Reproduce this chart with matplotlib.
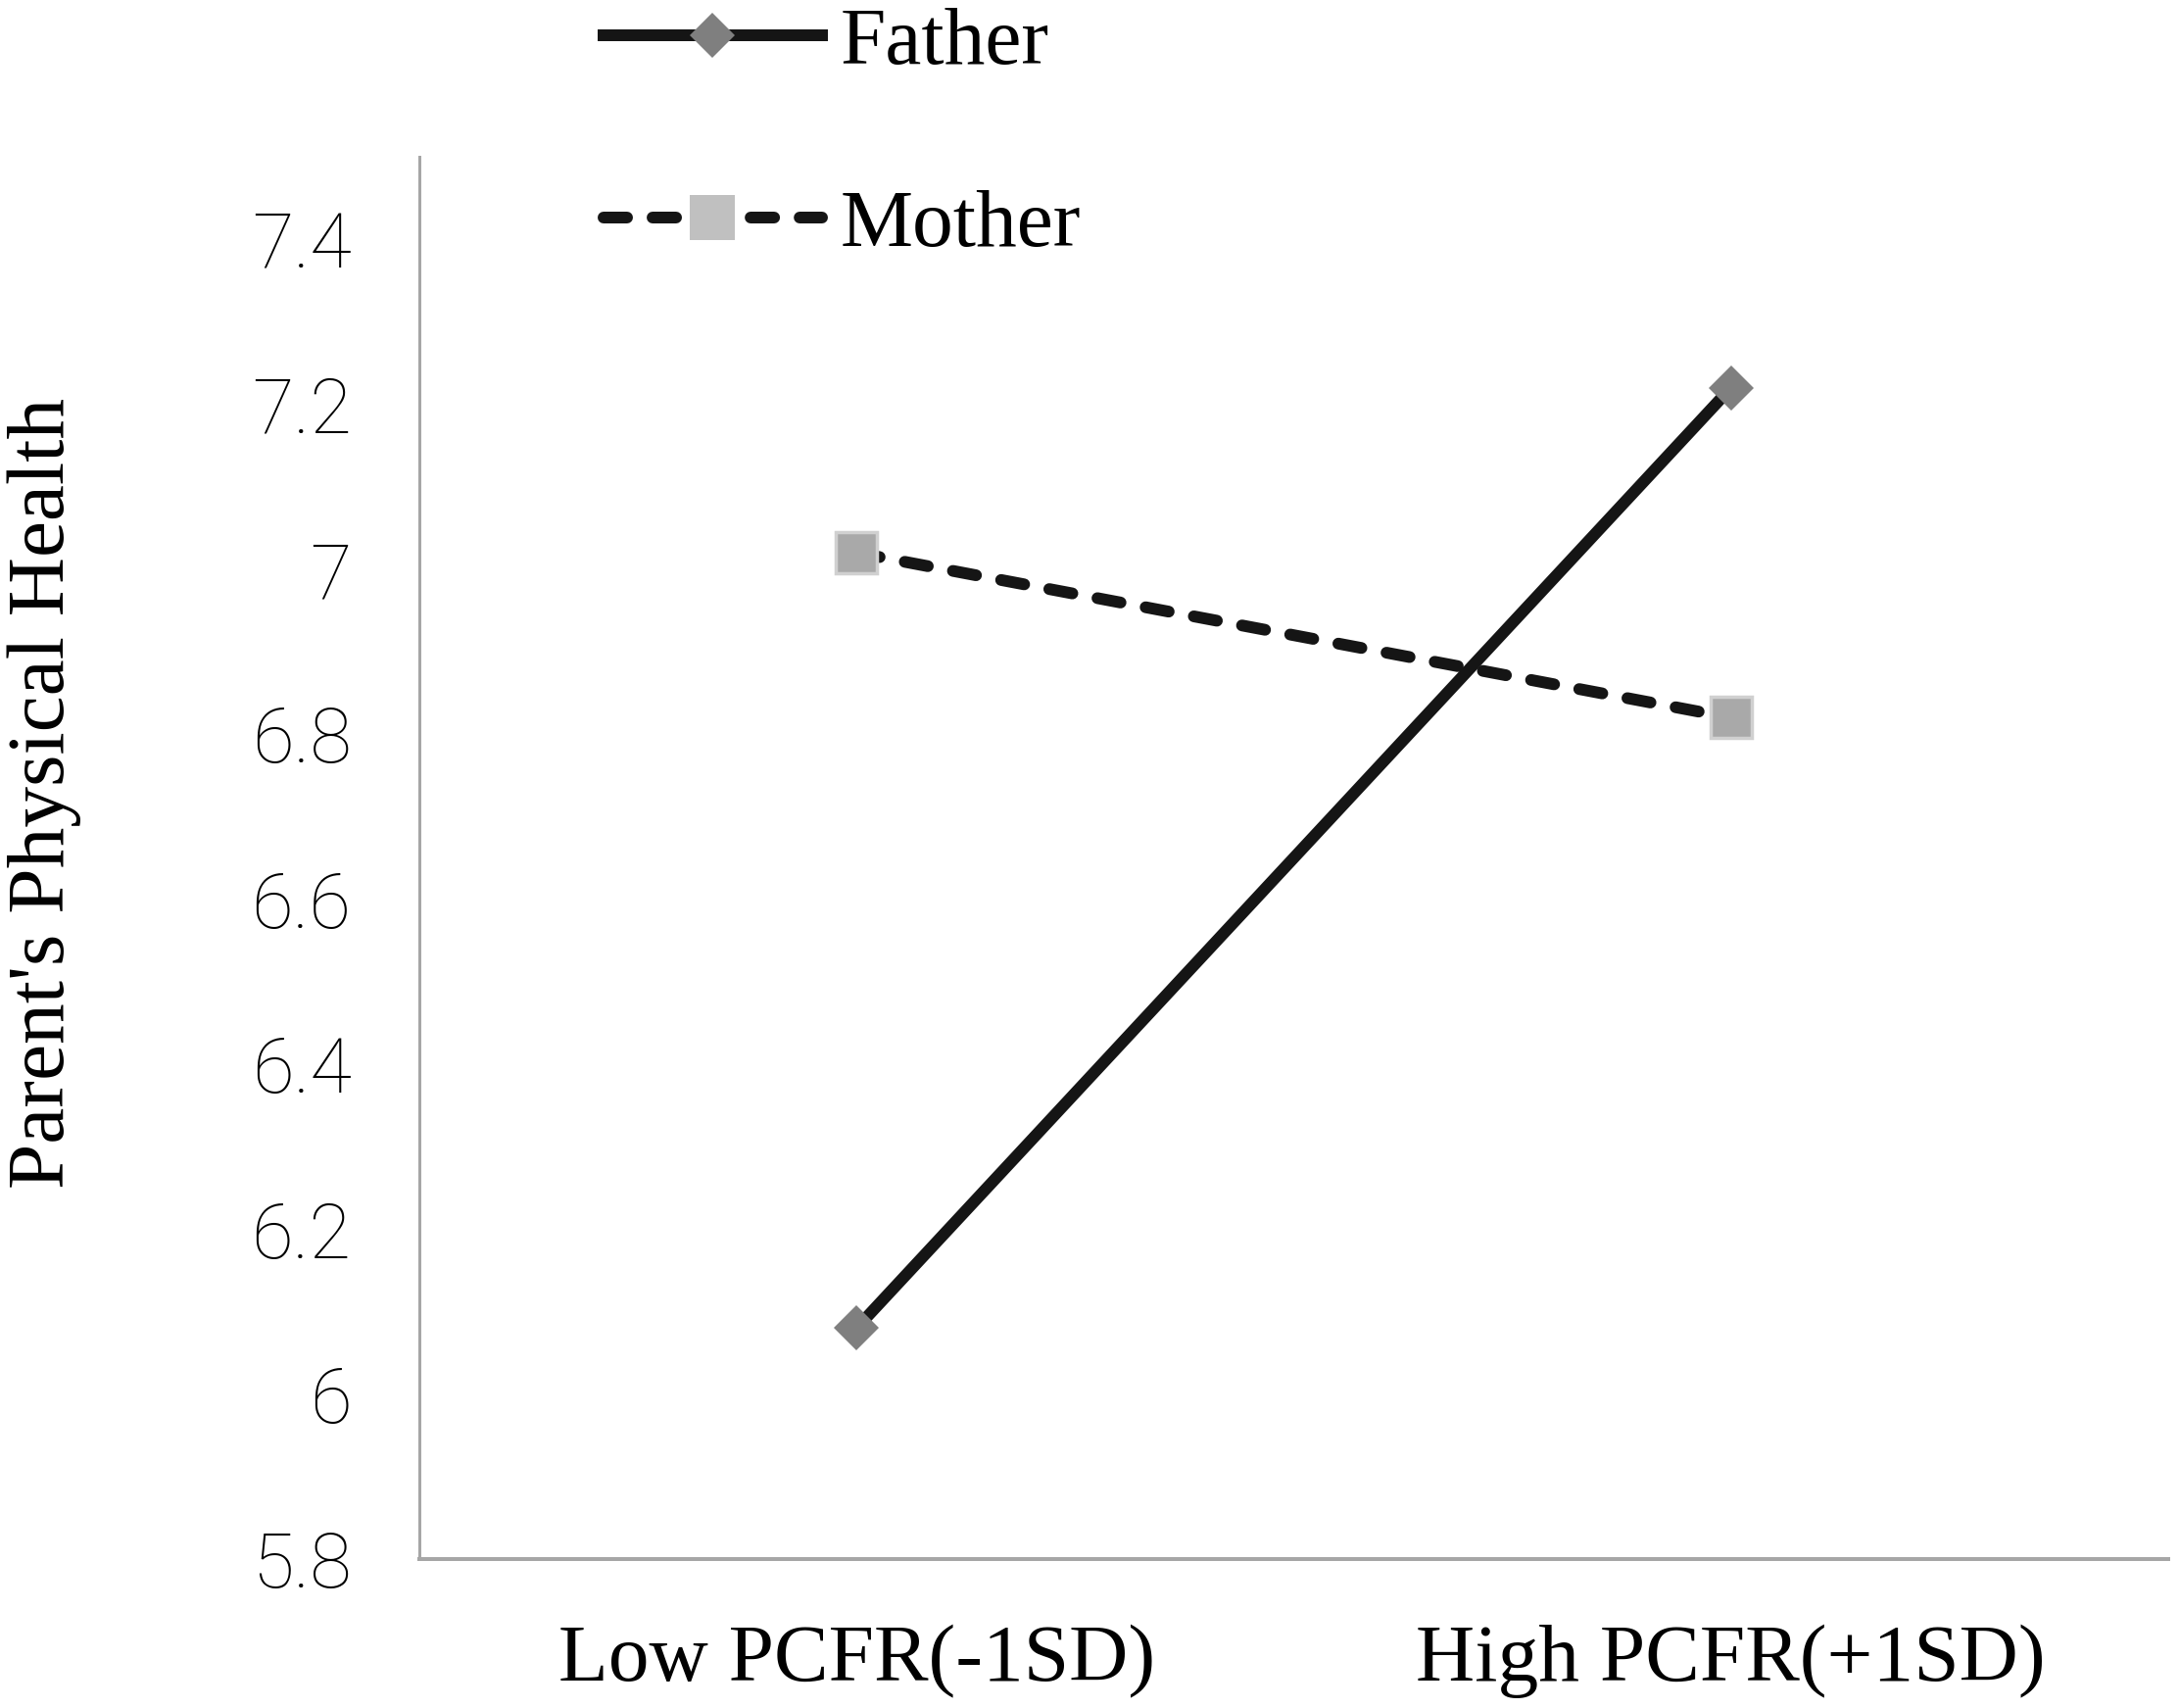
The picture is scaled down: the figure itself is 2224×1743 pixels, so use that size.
import matplotlib
matplotlib.use("Agg")
import matplotlib.pyplot as plt
from matplotlib.lines import Line2D

# data
categories = ["Low PCFR(-1SD)", "High PCFR(+1SD)"]
father = [6.08, 7.22]
mother = [7.02, 6.82]
y_ticks = [5.8, 6.0, 6.2, 6.4, 6.6, 6.8, 7.0, 7.2, 7.4]
y_tick_labels = ["5.8", "6", "6.2", "6.4", "6.6", "6.8", "7", "7.2", "7.4"]

W, H = 2224, 1743
fig = plt.figure(figsize=(W / 100, H / 100), dpi=100)
ax = fig.add_axes([428 / W, 1 - 1591 / H, (2213 - 428) / W, (1591 - 160) / H])

serif = "Liberation Serif"
line_w = 12 * 72 / 100  # 12 px in points

x = range(len(categories))
ax.plot(x, father, color="#151515", lw=line_w, solid_capstyle="round",
        marker="D", ms=23, mfc="#7f7f7f", mec="#7f7f7f", mew=0, zorder=3)
ax.plot(x, mother, color="#151515", lw=line_w, dashes=(2.0, 2.17),
        dash_capstyle="round", marker="s", ms=30, mfc="#a9a9a9",
        mec="#d0d0d0", mew=2.5, zorder=4)

ax.set_xlim(-0.5, 1.5)
ax.set_ylim(5.8, 7.5)
ax.set_xticks(list(x))
ax.set_xticklabels(categories, family=serif, fontsize=60)
ax.set_yticks(y_ticks)
ax.set_yticklabels(y_tick_labels, family="Roboto", fontweight="light", fontsize=56)
ax.tick_params(axis="x", length=0, pad=48)
ax.tick_params(axis="y", length=0, pad=50)

for side in ("top", "right"):
    ax.spines[side].set_visible(False)
ax.spines["left"].set_color("#a6a6a6")
ax.spines["left"].set_linewidth(3 * 72 / 100)
ax.spines["bottom"].set_color("#a6a6a6")
ax.spines["bottom"].set_linewidth(4 * 72 / 100)

fig.text(45 / W, 1 - 809 / H, "Parent's Physical Health", rotation=90,
         ha="center", va="center", family=serif, fontsize=60)

# legend above the plot, handles built to match the reference look
handles = [
    Line2D([], [], color="#151515", lw=line_w, marker="D", ms=23,
           mfc="#7f7f7f", mew=0),
    Line2D([], [], color="#151515", lw=line_w, dashes=(2.0, 2.17),
           dash_capstyle="round", marker="s", ms=33, mfc="#c0c0c0", mew=0),
]
fig.legend(handles, ["Father", "Mother"], loc="upper left",
           bbox_to_anchor=(616 / W, 0.996), frameon=False,
           prop={"family": serif, "size": 60}, handlelength=2.67,
           handletextpad=0.23, labelspacing=1.31, borderpad=0,
           borderaxespad=0)

fig.savefig("out.png", dpi=100, facecolor="white")
